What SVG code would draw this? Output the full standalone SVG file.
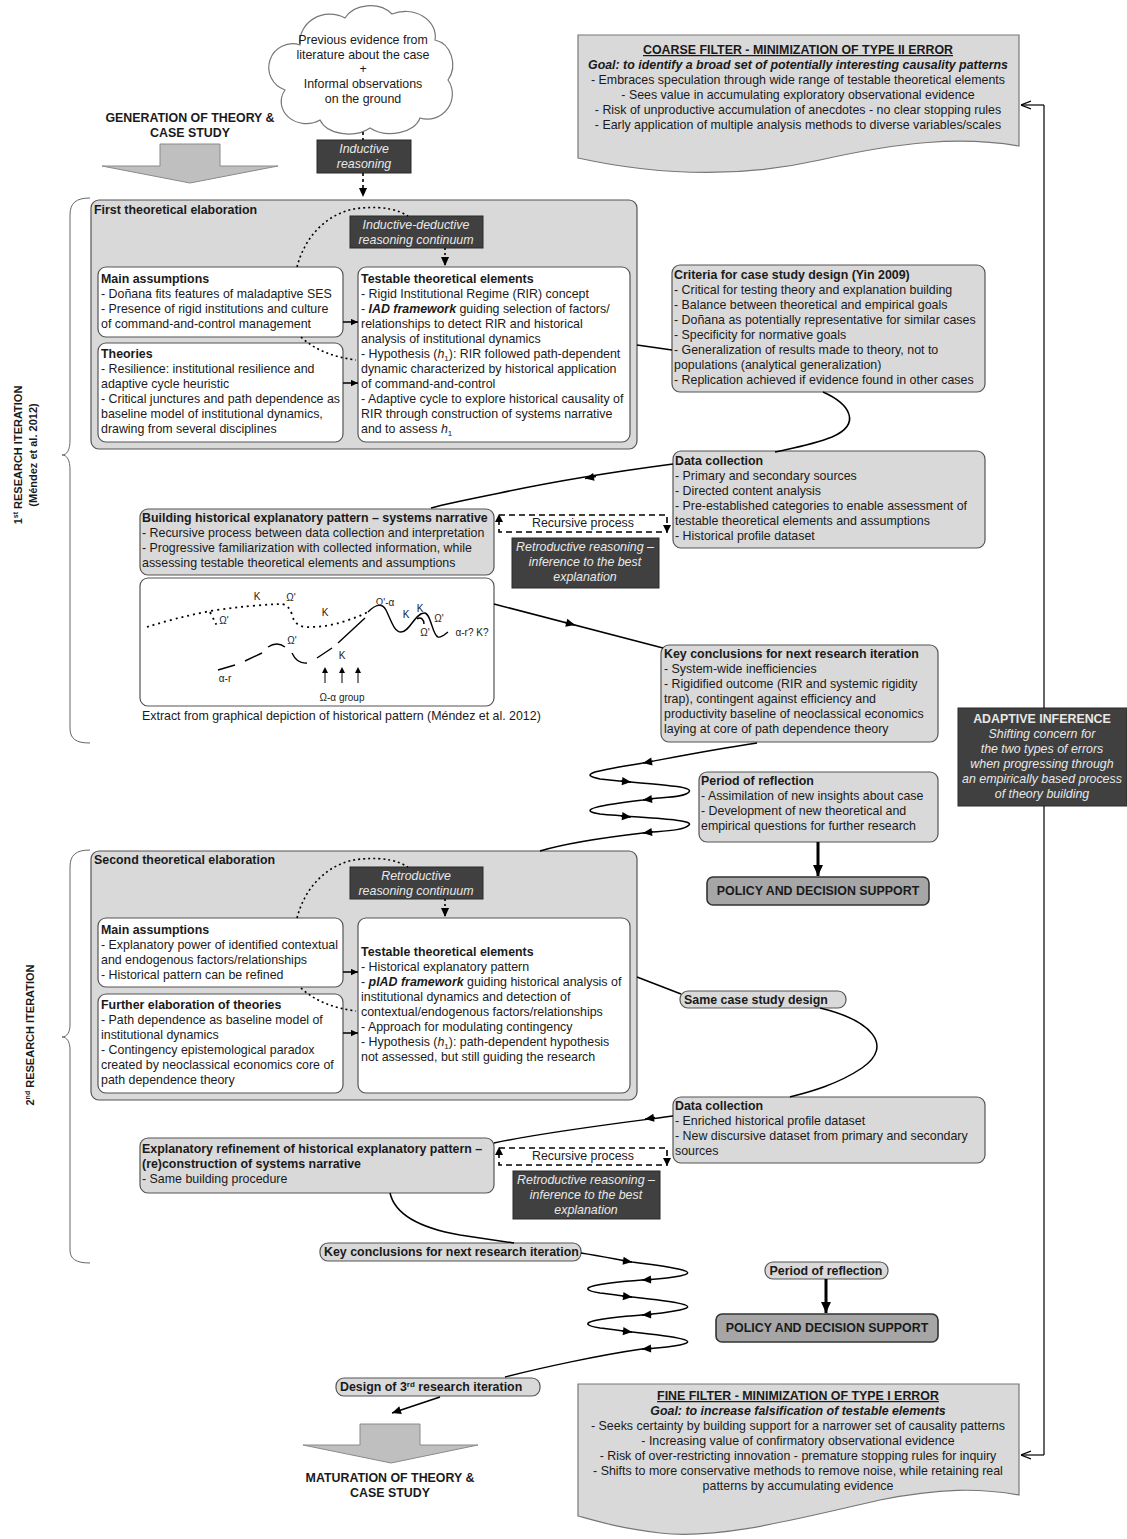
<svg xmlns="http://www.w3.org/2000/svg" width="1127" height="1539" viewBox="0 0 1127 1539">
<defs>
<style>
text{font-family:"Liberation Sans",Arial,sans-serif;font-size:12.4px;fill:#1a1a1a}
.b{font-weight:bold}
.i{font-style:italic}
.c{text-anchor:middle}
.w{fill:#e8e8e8}
.gb{fill:#d9d9d9;stroke:#555;stroke-width:1.2}
.wb{fill:#fff;stroke:#555;stroke-width:1.2}
.db{fill:#404040;stroke:#2a2a2a}
.pb{fill:#a6a6a6;stroke:#333;stroke-width:1.6}
.ln{fill:none;stroke:#000;stroke-width:1.5}
.tk{fill:none;stroke:#000;stroke-width:3}
.dt{fill:none;stroke:#000;stroke-width:1.6;stroke-dasharray:2 3}
.dsh{fill:none;stroke:#000;stroke-width:1.6;stroke-dasharray:6 4}
.gl{fill:none;stroke:#000;stroke-width:1.4}
.g{font-size:10px;text-anchor:middle}
.br{fill:none;stroke:#666;stroke-width:1}
.blk{fill:#bfbfbf;stroke:#8a8a8a;stroke-width:1}
.doc{fill:#d9d9d9;stroke:#777;stroke-width:1.2}
</style>
<marker id="ah" viewBox="0 0 10 10" refX="10" refY="5" markerWidth="10" markerHeight="9" markerUnits="userSpaceOnUse" orient="auto"><path d="M0,0.5 L10,5 L0,9.5 z" fill="#000"/></marker>
<marker id="ahs" viewBox="0 0 10 10" refX="10" refY="5" markerWidth="8" markerHeight="7" markerUnits="userSpaceOnUse" orient="auto"><path d="M0,0.5 L10,5 L0,9.5 z" fill="#000"/></marker>
<marker id="ahb" viewBox="0 0 10 10" refX="10" refY="5" markerWidth="12" markerHeight="11" markerUnits="userSpaceOnUse" orient="auto"><path d="M0,0.5 L10,5 L0,9.5 z" fill="#000"/></marker>
<marker id="op" viewBox="0 0 10 10" refX="10" refY="5" markerWidth="10" markerHeight="10" markerUnits="userSpaceOnUse" orient="auto"><path d="M0,1 L10,5 L0,9" fill="none" stroke="#000" stroke-width="1.2"/></marker>
</defs>
<rect width="1127" height="1539" fill="#fff"/>

<!-- left braces and labels -->
<g id="iteration1-label">
<path class="br" d="M90,198 C76,198 70,203 70,215 L70,440 C70,450 67,455 62,455 C67,455 70,460 70,470 L70,728 C70,739 76,743 90,743"/>
<text class="b" transform="translate(22,455) rotate(-90)" text-anchor="middle" style="font-size:11px">1<tspan style="font-size:7px" dy="-4">st</tspan><tspan dy="4"> RESEARCH ITERATION</tspan></text>
<text class="b" transform="translate(37,455) rotate(-90)" text-anchor="middle" style="font-size:11px">(Méndez et al. 2012)</text>
</g>
<g id="iteration2-label">
<path class="br" d="M90,850 C76,850 70,855 70,867 L70,1025 C70,1032 67,1037 62,1037 C67,1037 70,1042 70,1050 L70,1250 C70,1259 76,1263 90,1263"/>
<text class="b" transform="translate(34,1035) rotate(-90)" text-anchor="middle" style="font-size:11px">2<tspan style="font-size:7px" dy="-4">nd</tspan><tspan dy="4"> RESEARCH ITERATION</tspan></text>
</g>

<!-- top -->
<g id="cloud">
<path d="M300,45 A30,28 0 0 1 345,18 A28,22 0 0 1 392,14 A30,25 0 0 1 435,40 A22,25 0 0 1 448,80 A25,25 0 0 1 420,118 A30,20 0 0 1 370,128 A30,20 0 0 1 320,120 A25,22 0 0 1 285,90 A22,22 0 0 1 300,45 Z" fill="#fff" stroke="#777" stroke-width="1.2"/>
<text class="c" x="363" y="44">Previous evidence from</text>
<text class="c" x="363" y="59">literature about the case</text>
<text class="c" x="363" y="73">+</text>
<text class="c" x="363" y="88">Informal observations</text>
<text class="c" x="363" y="103">on the ground</text>
</g>
<g id="generation">
<text class="b c" x="190" y="122">GENERATION OF THEORY &amp;</text>
<text class="b c" x="190" y="137">CASE STUDY</text>
<polygon class="blk" points="160,144 220,144 220,166 278,166 190,183 102,166 160,166"/>
</g>
<g id="inductive">
<rect class="db" x="317" y="140" width="94" height="33"/>
<text class="i c w" x="364" y="153">Inductive</text>
<text class="i c w" x="364" y="168">reasoning</text>
</g>

<g id="coarse-filter">
<path class="doc" d="M578,35 H1019 V146 C960,136 900,142 820,160 C740,178 660,176 578,158 Z"/>
<text class="b c" x="798" y="54" text-decoration="underline">COARSE FILTER - MINIMIZATION OF TYPE II ERROR</text>
<text class="b i c" x="798" y="69">Goal: to identify a broad set of potentially interesting causality patterns</text>
<text class="c" x="798" y="84">- Embraces speculation through wide range of testable theoretical elements</text>
<text class="c" x="798" y="99">- Sees value in accumulating exploratory observational evidence</text>
<text class="c" x="798" y="114">- Risk of unproductive accumulation of anecdotes - no clear stopping rules</text>
<text class="c" x="798" y="129">- Early application of multiple analysis methods to diverse variables/scales</text>
</g>

<!-- first theoretical elaboration -->
<g id="first-elaboration">
<rect class="gb" x="91" y="200" width="546" height="249" rx="8"/>
<text class="b" x="94" y="214">First theoretical elaboration</text>
</g>
<g id="inductive-deductive">
<rect class="db" x="350" y="216" width="133" height="32"/>
<text class="i c w" x="416" y="229">Inductive-deductive</text>
<text class="i c w" x="416" y="244">reasoning continuum</text>
</g>
<g id="main-assumptions-1">
<rect class="wb" x="98" y="267" width="245" height="70" rx="8"/>
<text class="b" x="101" y="283">Main assumptions</text>
<text x="101" y="298">- Doñana fits features of maladaptive SES</text>
<text x="101" y="313">- Presence of rigid institutions and culture</text>
<text x="101" y="328">of command-and-control management</text>
</g>
<g id="theories-1">
<rect class="wb" x="98" y="343" width="245" height="99" rx="8"/>
<text class="b" x="101" y="358">Theories</text>
<text x="101" y="373">- Resilience: institutional resilience and</text>
<text x="101" y="388">adaptive cycle heuristic</text>
<text x="101" y="403">- Critical junctures and path dependence as</text>
<text x="101" y="418">baseline model of institutional dynamics,</text>
<text x="101" y="433">drawing from several disciplines</text>
</g>
<g id="testable-1">
<rect class="wb" x="358" y="267" width="272" height="175" rx="8"/>
<text class="b" x="361" y="283">Testable theoretical elements</text>
<text x="361" y="298">- Rigid Institutional Regime (RIR) concept</text>
<text x="361" y="313">- <tspan class="b i">IAD framework</tspan> guiding selection of factors/</text>
<text x="361" y="328">relationships to detect RIR and historical</text>
<text x="361" y="343">analysis of institutional dynamics</text>
<text x="361" y="358">- Hypothesis (<tspan class="i">h</tspan><tspan style="font-size:8px" dy="3">1</tspan><tspan dy="-3">): RIR followed path-dependent</tspan></text>
<text x="361" y="373">dynamic characterized by historical application</text>
<text x="361" y="388">of command-and-control</text>
<text x="361" y="403">- Adaptive cycle to explore historical causality of</text>
<text x="361" y="418">RIR through construction of systems narrative</text>
<text x="361" y="433">and to assess <tspan class="i">h</tspan><tspan style="font-size:8px" dy="3">1</tspan></text>
</g>

<g id="criteria">
<rect class="gb" x="672" y="265" width="313" height="127" rx="8"/>
<text class="b" x="674" y="279">Criteria for case study design (Yin 2009)</text>
<text x="674" y="294">- Critical for testing theory and explanation building</text>
<text x="674" y="309">- Balance between theoretical and empirical goals</text>
<text x="674" y="324">- Doñana as potentially representative for similar cases</text>
<text x="674" y="339">- Specificity for normative goals</text>
<text x="674" y="354">- Generalization of results made to theory, not to</text>
<text x="674" y="369">populations (analytical generalization)</text>
<text x="674" y="384">- Replication achieved if evidence found in other cases</text>
</g>

<g id="data-collection-1">
<rect class="gb" x="673" y="451" width="312" height="97" rx="8"/>
<text class="b" x="675" y="465">Data collection</text>
<text x="675" y="480">- Primary and secondary sources</text>
<text x="675" y="495">- Directed content analysis</text>
<text x="675" y="510">- Pre-established categories to enable assessment of</text>
<text x="675" y="525">testable theoretical elements and assumptions</text>
<text x="675" y="540">- Historical profile dataset</text>
</g>

<g id="building-pattern">
<rect class="gb" x="140" y="509" width="354" height="66" rx="8"/>
<text class="b" x="142" y="522">Building historical explanatory pattern – systems narrative</text>
<text x="142" y="537">- Recursive process between data collection and interpretation</text>
<text x="142" y="552">- Progressive familiarization with collected information, while</text>
<text x="142" y="567">assessing testable theoretical elements and assumptions</text>
</g>

<g id="recursive-1">
<rect class="dsh" x="499" y="515" width="168" height="17"/>
<polygon points="499,514 495,522 503,522" fill="#000"/>
<polygon points="667,533 663,525 671,525" fill="#000"/>
<text class="c" x="583" y="527">Recursive process</text>
</g>
<g id="retroductive-1">
<rect class="db" x="512" y="538" width="147" height="50"/>
<text class="i c w" x="585" y="551">Retroductive reasoning –</text>
<text class="i c w" x="585" y="566">inference to the best</text>
<text class="i c w" x="585" y="581">explanation</text>
</g>

<g id="pattern-graph">
<rect class="wb" x="140" y="578" width="354" height="128" rx="8"/>
<path class="gl" d="M147,627 Q175,618 210,611 Q250,605 282,604 Q290,606 292,615 Q295,626 305,627 Q335,628 368,612" style="stroke-dasharray:2 4;stroke-width:1.8"/>
<path class="gl" d="M210,612 Q214,620 217,626" style="stroke-dasharray:2 4;stroke-width:1.8"/>
<path class="gl" d="M368,612 C376,604 382,603 386,610 C391,620 394,632 401,632 C410,632 414,614 424,613 C431,612 432,635 438,637 C442,638 445,634 448,632"/>
<path class="gl" d="M417,619 C421,616 424,620 424,624"/>
<path class="gl" d="M218,670 L235,665 M245,661 L262,653 M268,647 Q277,641 285,647 M292,653 Q297,664 307,663 M317,658 L332,648 M338,643 L365,618"/>
<text class="g" x="257" y="600">K</text>
<text class="g" x="291" y="601">Ω'</text>
<text class="g" x="325" y="616">K</text>
<text class="g" x="224" y="624">Ω'</text>
<text class="g" x="385" y="606">Ω'-α</text>
<text class="g" x="406" y="618">K</text>
<text class="g" x="420" y="612">K</text>
<text class="g" x="439" y="622">Ω'</text>
<text class="g" x="425" y="636">Ω'</text>
<text class="g" x="472" y="636">α-r? K?</text>
<text class="g" x="292" y="644">Ω'</text>
<text class="g" x="342" y="659">K</text>
<text class="g" x="225" y="682">α-r</text>
<text class="g" x="342" y="701">Ω-α group</text>
<path class="gl" d="M325,683 V671 M342,683 V671 M358,683 V671" style="stroke-width:1"/>
<polygon points="325,667 322,673 328,673" fill="#000"/>
<polygon points="342,667 339,673 345,673" fill="#000"/>
<polygon points="358,667 355,673 361,673" fill="#000"/>
<text x="142" y="720">Extract from graphical depiction of historical pattern (Méndez et al. 2012)</text>
</g>

<g id="key-conclusions-1">
<rect class="gb" x="661" y="645" width="277" height="97" rx="8"/>
<text class="b" x="664" y="658">Key conclusions for next research iteration</text>
<text x="664" y="673">- System-wide inefficiencies</text>
<text x="664" y="688">- Rigidified outcome (RIR and systemic rigidity</text>
<text x="664" y="703">trap), contingent against efficiency and</text>
<text x="664" y="718">productivity baseline of neoclassical economics</text>
<text x="664" y="733">laying at core of path dependence theory</text>
</g>

<g id="period-reflection-1">
<rect class="gb" x="699" y="772" width="239" height="70" rx="8"/>
<text class="b" x="701" y="785">Period of reflection</text>
<text x="701" y="800">- Assimilation of new insights about case</text>
<text x="701" y="815">- Development of new theoretical and</text>
<text x="701" y="830">empirical questions for further research</text>
</g>
<g id="policy-1">
<rect class="pb" x="707" y="877" width="222" height="28" rx="6"/>
<text class="b c" x="818" y="895">POLICY AND DECISION SUPPORT</text>
</g>

<g id="adaptive-inference">
<rect class="db" x="958" y="708" width="169" height="98"/>
<text class="b c w" x="1042" y="723">ADAPTIVE INFERENCE</text>
<text class="i c w" x="1042" y="738">Shifting concern for</text>
<text class="i c w" x="1042" y="753">the two types of errors</text>
<text class="i c w" x="1042" y="768">when progressing through</text>
<text class="i c w" x="1042" y="783">an empirically based process</text>
<text class="i c w" x="1042" y="798">of theory building</text>
</g>

<!-- second theoretical elaboration -->
<g id="second-elaboration">
<rect class="gb" x="91" y="851" width="546" height="249" rx="8"/>
<text class="b" x="94" y="864">Second theoretical elaboration</text>
</g>
<g id="retroductive-continuum">
<rect class="db" x="350" y="867" width="133" height="32"/>
<text class="i c w" x="416" y="880">Retroductive</text>
<text class="i c w" x="416" y="895">reasoning continuum</text>
</g>
<g id="main-assumptions-2">
<rect class="wb" x="98" y="918" width="245" height="69" rx="8"/>
<text class="b" x="101" y="934">Main assumptions</text>
<text x="101" y="949">- Explanatory power of identified contextual</text>
<text x="101" y="964">and endogenous factors/relationships</text>
<text x="101" y="979">- Historical pattern can be refined</text>
</g>
<g id="further-theories">
<rect class="wb" x="98" y="994" width="245" height="99" rx="8"/>
<text class="b" x="101" y="1009">Further elaboration of theories</text>
<text x="101" y="1024">- Path dependence as baseline model of</text>
<text x="101" y="1039">institutional dynamics</text>
<text x="101" y="1054">- Contingency epistemological paradox</text>
<text x="101" y="1069">created by neoclassical economics core of</text>
<text x="101" y="1084">path dependence theory</text>
</g>
<g id="testable-2">
<rect class="wb" x="358" y="918" width="272" height="175" rx="8"/>
<text class="b" x="361" y="956">Testable theoretical elements</text>
<text x="361" y="971">- Historical explanatory pattern</text>
<text x="361" y="986">- <tspan class="b i">pIAD framework</tspan> guiding historical analysis of</text>
<text x="361" y="1001">institutional dynamics and detection of</text>
<text x="361" y="1016">contextual/endogenous factors/relationships</text>
<text x="361" y="1031">- Approach for modulating contingency</text>
<text x="361" y="1046">- Hypothesis (<tspan class="i">h</tspan><tspan style="font-size:8px" dy="3">1</tspan><tspan dy="-3">): path-dependent hypothesis</tspan></text>
<text x="361" y="1061">not assessed, but still guiding the research</text>
</g>

<g id="same-case-design">
<rect class="gb" x="680" y="991" width="166" height="17" rx="8"/>
<text class="b" x="684" y="1004">Same case study design</text>
</g>

<g id="data-collection-2">
<rect class="gb" x="673" y="1097" width="312" height="66" rx="8"/>
<text class="b" x="675" y="1110">Data collection</text>
<text x="675" y="1125">- Enriched historical profile dataset</text>
<text x="675" y="1140">- New discursive dataset from primary and secondary</text>
<text x="675" y="1155">sources</text>
</g>

<g id="explanatory-refinement">
<rect class="gb" x="140" y="1138" width="354" height="55" rx="8"/>
<text class="b" x="142" y="1153">Explanatory refinement of historical explanatory pattern –</text>
<text class="b" x="142" y="1168">(re)construction of systems narrative</text>
<text x="142" y="1183">- Same building procedure</text>
</g>
<g id="recursive-2">
<rect class="dsh" x="499" y="1148" width="168" height="17"/>
<polygon points="499,1147 495,1155 503,1155" fill="#000"/>
<polygon points="667,1166 663,1158 671,1158" fill="#000"/>
<text class="c" x="583" y="1160">Recursive process</text>
</g>
<g id="retroductive-2">
<rect class="db" x="513" y="1171" width="147" height="48"/>
<text class="i c w" x="586" y="1184">Retroductive reasoning –</text>
<text class="i c w" x="586" y="1199">inference to the best</text>
<text class="i c w" x="586" y="1214">explanation</text>
</g>

<g id="key-conclusions-2">
<rect class="gb" x="320" y="1243" width="261" height="18" rx="8"/>
<text class="b" x="324" y="1256">Key conclusions for next research iteration</text>
</g>
<g id="period-reflection-2">
<rect class="gb" x="765" y="1262" width="123" height="17" rx="8"/>
<text class="b c" x="826" y="1275">Period of reflection</text>
</g>
<g id="policy-2">
<rect class="pb" x="716" y="1314" width="222" height="28" rx="6"/>
<text class="b c" x="827" y="1332">POLICY AND DECISION SUPPORT</text>
</g>
<g id="design-3rd">
<rect class="gb" x="336" y="1378" width="204" height="18" rx="8"/>
<text class="b" x="340" y="1391">Design of 3<tspan style="font-size:8px" dy="-4">rd</tspan><tspan dy="4"> research iteration</tspan></text>
</g>
<g id="maturation">
<polygon class="blk" points="360,1424 420,1424 420,1445 478,1445 391,1463 303,1445 360,1445"/>
<text class="b c" x="390" y="1482">MATURATION OF THEORY &amp;</text>
<text class="b c" x="390" y="1497">CASE STUDY</text>
</g>

<g id="fine-filter">
<path class="doc" d="M578,1384 H1019 V1495 C980,1488 940,1488 880,1500 C800,1518 720,1540 660,1533 C620,1528 600,1522 578,1516 Z"/>
<text class="b c" x="798" y="1400" text-decoration="underline">FINE FILTER - MINIMIZATION OF TYPE I ERROR</text>
<text class="b i c" x="798" y="1415">Goal: to increase falsification of testable elements</text>
<text class="c" x="798" y="1430">- Seeks certainty by building support for a narrower set of causality patterns</text>
<text class="c" x="798" y="1445">- Increasing value of confirmatory observational evidence</text>
<text class="c" x="798" y="1460">- Risk of over-restricting innovation - premature stopping rules for inquiry</text>
<text class="c" x="798" y="1475">- Shifts to more conservative methods to remove noise, while retaining real</text>
<text class="c" x="798" y="1490">patterns by accumulating evidence</text>
</g>

<!-- connectors (drawn on top) -->
<g id="connectors">
<path class="dsh" d="M363,132 V140" style="stroke-dasharray:3 3"/>
<path class="dsh" d="M363,173 V197" marker-end="url(#ah)" style="stroke-dasharray:3 3"/>
<path class="dt" d="M297,267 C305,235 330,210 362,208 C385,206 398,210 408,216"/>
<path class="dt" d="M301,337 C315,350 333,357 356,360"/>
<path class="dt" d="M445,248 V266" marker-end="url(#ah)"/>
<path class="ln" d="M343,322 H358" marker-end="url(#ahs)"/>
<path class="ln" d="M343,383 H358" marker-end="url(#ahs)"/>
<path class="ln" d="M637,345 L672,350"/>
<path class="ln" d="M823,392 C850,404 862,424 832,437 C812,445 788,449 775,452"/>
<path class="ln" d="M673,464 C620,471 560,480 500,493 C470,499 445,504 431,508"/>
<path class="ln" d="M596,476.5 L585,478.5" marker-end="url(#ah)"/>
<path class="ln" d="M494,604 L663,648"/>
<path class="ln" d="M565,622.4 L575,625" marker-end="url(#ah)"/>
<path class="ln" d="M757,743 C710,750 670,758 643,763 C600,770 575,774 600,779 C640,784 695,785 689,792 C684,798 660,797 643,800 C600,805 575,810 600,814 C640,818 695,819 689,825 C684,831 660,831 643,833 C600,838 560,845 540,851"/>
<path class="ln" d="M653,761.3 L643,763" marker-end="url(#ah)"/>
<path class="ln" d="M621,781 L631,782" marker-end="url(#ah)"/>
<path class="ln" d="M653,798.8 L643,800" marker-end="url(#ah)"/>
<path class="ln" d="M621,816 L631,817" marker-end="url(#ah)"/>
<path class="ln" d="M653,831.8 L643,833" marker-end="url(#ah)"/>
<path class="tk" d="M818,842 V876" marker-end="url(#ahb)"/>
<path class="dt" d="M297,918 C305,886 330,861 362,859 C385,857 398,861 408,867"/>
<path class="dt" d="M301,988 C315,1001 333,1008 356,1011"/>
<path class="dt" d="M445,899 V917" marker-end="url(#ah)"/>
<path class="ln" d="M343,972 H358" marker-end="url(#ahs)"/>
<path class="ln" d="M343,1033 H358" marker-end="url(#ahs)"/>
<path class="ln" d="M637,977 L681,994"/>
<path class="ln" d="M820,1008 C870,1020 895,1045 862,1068 C835,1086 805,1093 790,1097"/>
<path class="ln" d="M673,1116 C620,1123 545,1132 494,1143"/>
<path class="ln" d="M655,1117.6 L645,1119" marker-end="url(#ah)"/>
<path class="ln" d="M390,1193 C395,1215 420,1228 460,1235 L514,1243"/>
<path class="ln" d="M581,1253 C600,1256 615,1259 632,1262 C680,1268 700,1272 680,1276 C665,1279 655,1279 642,1280 C600,1283 570,1288 600,1293 C615,1295 622,1296 632,1297 C680,1302 700,1306 680,1310 C665,1313 655,1314 642,1315 C600,1318 570,1323 600,1328 C615,1330 622,1331 632,1332 C680,1337 700,1341 680,1345 C665,1348 655,1348 642,1349 C600,1355 540,1368 505,1377"/>
<path class="ln" d="M622,1260.6 L632,1262" marker-end="url(#ah)"/>
<path class="ln" d="M652,1279.5 L642,1280" marker-end="url(#ah)"/>
<path class="ln" d="M622,1296 L632,1297" marker-end="url(#ah)"/>
<path class="ln" d="M652,1314.5 L642,1315" marker-end="url(#ah)"/>
<path class="ln" d="M622,1331 L632,1332" marker-end="url(#ah)"/>
<path class="ln" d="M652,1348.5 L642,1349" marker-end="url(#ah)"/>
<path class="ln" d="M440,1397 L392,1413" marker-end="url(#ah)"/>
<path class="tk" d="M826,1279 V1313" marker-end="url(#ahb)"/>
<path class="ln" d="M1044,105 V708" style="stroke-width:1.2"/>
<path class="ln" d="M1044,806 V1455" style="stroke-width:1.2"/>
<path class="ln" d="M1044,105 H1021" marker-end="url(#op)" style="stroke-width:1.2"/>
<path class="ln" d="M1044,1455 H1021" marker-end="url(#op)" style="stroke-width:1.2"/>
</g>
</svg>
